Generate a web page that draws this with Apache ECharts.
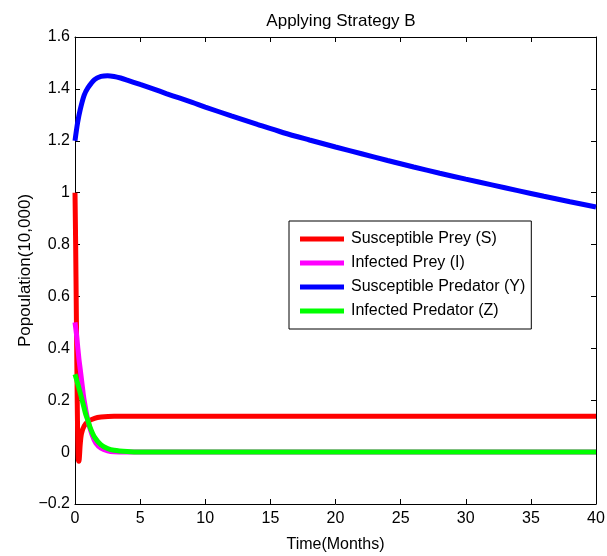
<!DOCTYPE html>
<html>
<head>
<meta charset="utf-8">
<script src="https://cdn.jsdelivr.net/npm/echarts@6/dist/echarts.min.js"></script>
<style>html,body{margin:0;padding:0;background:#fff;}#c{width:607px;height:556px;}</style>
</head>
<body>
<div id="c"></div>
<script>
// Data
var seriesNames = ['Susceptible Prey (S)', 'Infected Prey (I)', 'Susceptible Predator (Y)', 'Infected Predator (Z)'];
var seriesColors = ['#ff0000', '#ff00ff', '#0000ff', '#00ff00'];
var xTicks = [0, 5, 10, 15, 20, 25, 30, 35, 40];
var yTicks = [-0.2, 0, 0.2, 0.4, 0.6, 0.8, 1, 1.2, 1.4, 1.6];

var timeS = [0, 0.05, 0.1, 0.15, 0.2, 0.25, 0.3, 0.35, 0.4, 0.5, 0.7, 1.0, 1.5, 2, 3, 5, 10, 20, 30, 40];
var valS  = [1.0, 0.8, 0.55, 0.3, 0.08, -0.025, -0.035, -0.01, 0.03, 0.072, 0.1, 0.118, 0.13, 0.135, 0.138, 0.138, 0.138, 0.138, 0.138, 0.138];

var timeI = [0, 0.1, 0.2, 0.3, 0.4, 0.5, 0.7, 1.0, 1.3, 1.6, 2, 2.5, 3, 4, 10, 20, 30, 40];
var valI  = [0.5, 0.46, 0.41, 0.36, 0.32, 0.28, 0.2, 0.12, 0.068, 0.035, 0.015, 0.005, 0.001, 0, 0, 0, 0, 0];

var timeY = [0, 0.2, 0.4, 0.7, 1.0, 1.5, 2.0, 2.5, 3, 3.5, 4, 5, 6, 7, 8, 9, 10, 12, 14, 16, 18, 20, 22, 24, 26, 28, 30, 32, 34, 36, 38, 40];
var valY  = [1.20, 1.27, 1.32, 1.375, 1.405, 1.436, 1.448, 1.451, 1.448, 1.442, 1.434, 1.417, 1.400, 1.382, 1.365, 1.348, 1.330, 1.296, 1.263, 1.231, 1.203, 1.176, 1.150, 1.124, 1.099, 1.075, 1.052, 1.030, 1.008, 0.986, 0.965, 0.945];

var timeZ = [0, 0.2, 0.4, 0.6, 0.8, 1.0, 1.2, 1.5, 2, 2.5, 3, 4, 5, 10, 20, 30, 40];
var valZ  = [0.3, 0.265, 0.228, 0.19, 0.15, 0.12, 0.09, 0.058, 0.028, 0.014, 0.007, 0.002, 0, 0, 0, 0, 0];

function pairs(t, v) { return t.map(function (x, i) { return [x, v[i]]; }); }
var allData = [pairs(timeS, valS), pairs(timeI, valI), pairs(timeY, valY), pairs(timeZ, valZ)];

var FONT = '"Liberation Sans", Arial, sans-serif';
function fmtY(v) {
  var s = String(Math.round(v * 10) / 10);
  return s.replace('-', '\u2212');
}

var chart = echarts.init(document.getElementById('c'), null, {renderer: 'canvas'});
function axisLine() { return {show: true, onZero: false, lineStyle: {color: '#000', width: 1}}; }
function tick() { return {show: true, inside: true, length: 5, lineStyle: {color: '#000'}}; }
var option = {
  backgroundColor: '#fff',
  animation: false,
  title: {
    text: 'Applying Strategy B', left: 336, top: 8, textAlign: 'center',
    textStyle: {fontFamily: FONT, fontSize: 17, fontWeight: 'normal', color: '#000'}
  },
  grid: {left: 75, right: 11, top: 37, bottom: 52, containLabel: false, outerBoundsMode: 'none'},
  legend: {
    data: seriesNames,
    orient: 'vertical',
    left: 289, top: 221,
    padding: [8, 6, 8, 11],
    itemGap: 4,
    itemWidth: 44, itemHeight: 5,
    itemStyle: {borderWidth: 0},
    icon: 'rect',
    textStyle: {fontFamily: FONT, fontSize: 16, color: '#000', lineHeight: 20, padding: [0, 0, 0, 2]},
    borderColor: '#000', borderWidth: 1, backgroundColor: '#fff'
  },
  xAxis: [{
    type: 'value', min: 0, max: 40, interval: 5,
    name: 'Time(Months)', nameLocation: 'middle', nameGap: 33,
    nameTextStyle: {fontFamily: FONT, fontSize: 16, color: '#000'},
    axisLine: axisLine(), axisTick: tick(), splitLine: {show: false},
    axisLabel: {fontFamily: FONT, fontSize: 16, color: '#000', margin: 7}
  }, {
    type: 'value', min: 0, max: 40, interval: 5, position: 'top',
    axisLine: axisLine(), axisTick: tick(), splitLine: {show: false}, axisLabel: {show: false}
  }],
  yAxis: [{
    type: 'value', min: -0.2, max: 1.6, interval: 0.2,
    name: 'Popoulation(10,000)', nameLocation: 'middle', nameGap: 41, nameMoveOverlap: false,
    nameTextStyle: {fontFamily: FONT, fontSize: 17, color: '#000'},
    axisLine: axisLine(), axisTick: tick(), splitLine: {show: false},
    axisLabel: {fontFamily: FONT, fontSize: 16, color: '#000', margin: 5, formatter: fmtY}
  }, {
    type: 'value', min: -0.2, max: 1.6, interval: 0.2, position: 'right',
    axisLine: axisLine(), axisTick: tick(), splitLine: {show: false}, axisLabel: {show: false}
  }],
  series: seriesNames.map(function (n, i) {
    return {
      name: n, type: 'line', data: allData[i], showSymbol: false, symbol: 'none',
      smooth: 0.3,
      lineStyle: {color: seriesColors[i], width: 5},
      itemStyle: {color: seriesColors[i]}
    };
  })
};
chart.setOption(option);
</script>
</body>
</html>
